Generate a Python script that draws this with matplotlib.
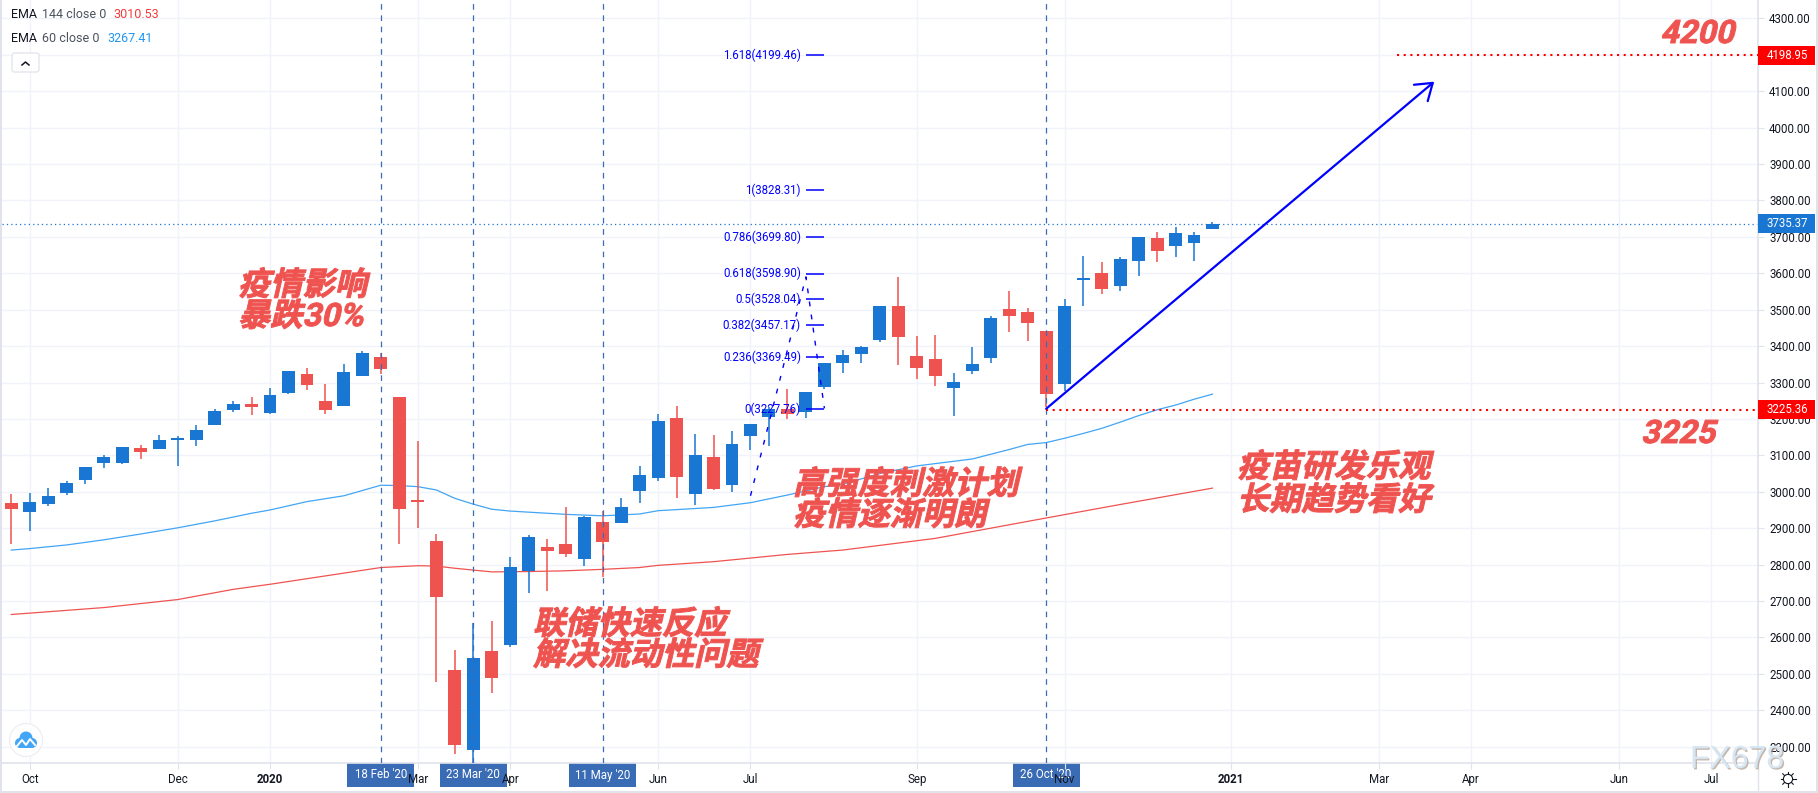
import matplotlib
matplotlib.use('Agg')
import matplotlib.pyplot as plt
import matplotlib.patheffects as pe
from matplotlib.patches import Rectangle, Circle, FancyBboxPatch
from matplotlib.lines import Line2D
from matplotlib.transforms import Affine2D

plt.rcParams['font.family'] = ['Roboto', 'Noto Sans CJK SC', 'DejaVu Sans']

opens = [2969, 2944, 2966, 2996, 3032, 3079, 3079, 3120, 3117, 3142, 3142, 3183, 3224, 3241, 3216, 3271, 3323,
         3249, 3235, 3318, 3370, 3260, 2977, 2865, 2510, 2291, 2563, 2579, 2782, 2848, 2856, 2815, 2917, 2914,
         3002, 3038, 3202, 2994, 3095, 3018, 3153, 3205, 3227, 3219, 3288, 3353, 3378, 3417, 3510, 3373, 3364,
         3285, 3331, 3367, 3502, 3493, 3441, 3296, 3581, 3601, 3565, 3634, 3697, 3675, 3683, 3721]
highs = [2994, 2996, 3010, 3030, 3068, 3101, 3123, 3128, 3156, 3153, 3183, 3227, 3249, 3260, 3285, 3331, 3340,
         3296, 3351, 3386, 3381, 3260, 3139, 2884, 2565, 2640, 2645, 2821, 2881, 2870, 2958, 2933, 2947, 2983,
         3071, 3213, 3235, 3158, 3156, 3167, 3186, 3232, 3282, 3274, 3353, 3389, 3400, 3510, 3590, 3428, 3430,
         3326, 3397, 3483, 3551, 3504, 3441, 3529, 3647, 3631, 3645, 3699, 3713, 3727, 3713, 3741]
lows = [2856, 2892, 2961, 2991, 3021, 3065, 3076, 3090, 3117, 3071, 3126, 3183, 3219, 3211, 3213, 3268, 3279,
        3213, 3235, 3318, 3323, 2856, 2900, 2478, 2280, 2191, 2447, 2574, 2722, 2727, 2821, 2796, 2766, 2914,
        2969, 3029, 2983, 2964, 3005, 2999, 3115, 3126, 3200, 3202, 3282, 3326, 3353, 3411, 3348, 3310, 3290,
        3208, 3323, 3353, 3439, 3414, 3234, 3277, 3510, 3543, 3551, 3592, 3631, 3645, 3634, 3721]
closes = [2953, 2972, 2988, 3024, 3068, 3095, 3123, 3109, 3142, 3148, 3170, 3222, 3241, 3233, 3266, 3331, 3293,
          3224, 3329, 3381, 3337, 2953, 2972, 2711, 2305, 2544, 2488, 2793, 2876, 2837, 2829, 2931, 2862, 2958,
          3046, 3194, 3040, 3101, 3007, 3131, 3186, 3227, 3213, 3274, 3353, 3375, 3397, 3510, 3425, 3340, 3318,
          3301, 3351, 3477, 3483, 3463, 3268, 3510, 3587, 3557, 3639, 3699, 3661, 3710, 3705, 3735]

ema60_x = [0, 1, 3, 5, 7, 9, 11, 13, 14, 16, 18, 20, 21, 22, 23, 24, 25, 26, 27, 30, 32, 34, 35, 38, 40, 42, 44,
           45, 47, 49, 52, 54, 55, 56, 57, 58, 59, 60, 61, 62, 63, 64, 65]
ema60_y = [2840, 2844, 2854, 2868, 2884, 2901, 2920, 2941, 2950, 2973, 2989, 3018, 3017, 3014, 3005, 2982, 2966,
           2952, 2947, 2938, 2934, 2939, 2948, 2957, 2970, 2991, 3014, 3021, 3050, 3071, 3090, 3116, 3130, 3135,
           3147, 3160, 3174, 3191, 3209, 3225, 3238, 3254, 3268]
ema144_x = [0, 5, 9, 12, 14, 20, 22, 23, 24, 25, 26, 28, 30, 32, 34, 35, 38, 40, 42, 45, 50, 53, 56, 60, 65]
ema144_y = [2663, 2682, 2704, 2732, 2746, 2792, 2797, 2796, 2790, 2785, 2780, 2781, 2783, 2787, 2792, 2798, 2808,
            2818, 2828, 2840, 2872, 2900, 2928, 2965, 3010]

price_ticks = list(range(2300, 4400, 100))
time_pos = [1, 9, 14, 22, 27, 35, 40, 49, 57, 66, 74, 79, 87, 92]
time_labels = ['Oct', 'Dec', '2020', 'Mar', 'Apr', 'Jun', 'Jul', 'Sep', 'Nov', '2021', 'Mar', 'Apr', 'Jun', 'Jul']
event_pos = [20, 25, 32, 56]
event_labels = ["18 Feb '20", "23 Mar '20", "11 May '20", "26 Oct '20"]

fib_ratios = ['0', '0.236', '0.382', '0.5', '0.618', '0.786', '1', '1.618']
fib_prices = [3227.76, 3369.49, 3457.17, 3528.04, 3598.90, 3699.80, 3828.31, 4199.46]
fib_path_x = [40, 43, 44]
fib_path_y = [2989, 3590, 3229]

last_price = 3735.37
target_price = 4198.95
support_price = 3225.36
arrow_from = (56, 3228)
arrow_to = (77, 4126)

BLUE = '#1976d2'
RED = '#ef5350'
GRID = '#f0f3fa'
EDGE = '#e0e3eb'
INK = '#131722'
EVENT = '#3a6cb6'
LABEL = 8.3

W, H = 1818, 793
fig = plt.figure(figsize=(W / 100, H / 100), dpi=100)
ax = fig.add_axes([2 / W, (H - 763) / H, 1756 / W, 763 / H])
ax.set_xlim(-0.503, 94.52)
ax.set_ylim(2255.3, 4350.2)
ax.set_axisbelow(False)
# figure pixels, y pointing down
px = Affine2D().scale(1, -1).translate(0, H)


class Slant(pe.AbstractPathEffect):
    # CJK fonts have no italic, so shear the glyphs when they are drawn
    def __init__(self, deg=13, width=0.7):
        super().__init__()
        self.deg = deg
        self.width = width

    def draw_path(self, renderer, gc, tpath, affine, rgbFace=None):
        gc0 = renderer.new_gc()
        gc0.copy_properties(gc)
        gc0.set_foreground(rgbFace)
        gc0.set_linewidth(self.width)
        renderer.draw_path(gc0, tpath, Affine2D().skew_deg(self.deg, 0) + affine, rgbFace)
        gc0.restore()


# grid
for p in price_ticks:
    ax.axhline(p, color=GRID, lw=1.0, zorder=0.5)
for t in time_pos:
    ax.axvline(t, color=GRID, lw=1.0, zorder=0.5)

ax.spines[['left', 'top']].set_visible(False)
ax.spines[['right', 'bottom']].set_color(EDGE)
ax.spines[['right', 'bottom']].set_linewidth(1.2)
ax.yaxis.tick_right()
ax.set_yticks(price_ticks)
ax.set_yticklabels([f'{p:.2f}' for p in price_ticks])
ax.set_xticks(time_pos)
ax.set_xticklabels(time_labels)
ax.tick_params(axis='y', length=4, width=0.8, color=EDGE, labelcolor=INK, labelsize=LABEL, pad=4)
ax.tick_params(axis='x', length=4, width=0.8, color=EDGE, labelcolor=INK, labelsize=LABEL, pad=3)
for lab in ax.get_xticklabels():
    if lab.get_text() in ('2020', '2021'):
        lab.set_fontweight('bold')

# emas
ax.plot(ema144_x, ema144_y, color=RED, lw=0.9, zorder=2)
ax.plot(ema60_x, ema60_y, color='#42a5f5', lw=0.9, zorder=2)

# candles
for i in range(len(opens)):
    c = BLUE if closes[i] >= opens[i] else RED
    ax.vlines(i, lows[i], highs[i], color=c, lw=1.1, zorder=3)
    ax.bar(i, abs(closes[i] - opens[i]), bottom=min(opens[i], closes[i]), width=0.7, color=c, lw=0, zorder=3)

# event lines and date boxes
for t, lab in zip(event_pos, event_labels):
    ax.axvline(t, color=EVENT, lw=0.9, dashes=(4.5, 4.5), zorder=4)
    ax.add_patch(Rectangle((t - 1.81, -24 / 763), 3.62, 24 / 763, transform=ax.get_xaxis_transform(),
                           color=EVENT, lw=0, clip_on=False, zorder=2))
    ax.text(t, -12 / 763, lab, transform=ax.get_xaxis_transform(), color='white', fontsize=LABEL,
            ha='center', va='center', zorder=2.2)

# price lines
ax.axhline(last_price, color=BLUE, lw=0.9, dashes=(1, 2.5), zorder=2.5)
ax.hlines(target_price, 75, 94.52, color='#ff0000', lw=1.5, linestyles=[(0, (1, 2.2))], zorder=4)
ax.hlines(support_price, 56, 94.52, color='#ff0000', lw=1.5, linestyles=[(0, (1, 2.2))], zorder=4)
for p, c in [(last_price, BLUE), (target_price, '#ff0000'), (support_price, '#ff0000')]:
    ax.add_patch(Rectangle((1, p - 26), 57 / 1756, 52, transform=ax.get_yaxis_transform(), color=c, lw=0,
                           clip_on=False, zorder=5))
    ax.text(1 + 29 / 1756, p, f'{p:.2f}', transform=ax.get_yaxis_transform(), color='white',
            fontsize=LABEL, ha='center', va='center', zorder=6)

# fib extension
ax.plot(fib_path_x, fib_path_y, color='#0000ff', lw=1.0, dashes=(3.5, 6), zorder=5)
ax.hlines(fib_prices, fib_path_x[1], fib_path_x[2], color='#0000ff', lw=1.1, zorder=5)
for r, p in zip(fib_ratios, fib_prices):
    ax.text(fib_path_x[1] - 0.27, p, f'{r}({p:.2f})', color='#0000ff', fontsize=LABEL, ha='right', va='center',
            zorder=6)

# trend arrow
ax.annotate('', xy=arrow_to, xytext=arrow_from, zorder=6,
            arrowprops=dict(arrowstyle='->,head_length=0.8,head_width=0.55', color='#0000ff', lw=1.6,
                            shrinkA=0, shrinkB=0, mutation_scale=14))

# big notes
notes = [('疫情影响', 238, 295), ('暴跌30%', 238, 326),
         ('联储快速反应', 533, 634), ('解决流动性问题', 533, 665),
         ('高强度刺激计划', 793, 494), ('疫情逐渐明朗', 793, 525),
         ('疫苗研发乐观', 1237, 477), ('长期趋势看好', 1237, 510),
         ('4200', 1660, 43), ('3225', 1641, 443)]
for s, x, y in notes:
    fig.text(x, y, s, transform=px, color=RED, fontsize=23.2, fontweight='bold', ha='left', va='baseline',
             zorder=8, path_effects=[Slant()])

# legend
fig.text(11, 14, 'EMA', transform=px, color=INK, fontsize=9, va='center')
fig.text(42, 14, '144 close 0', transform=px, color='#4c525e', fontsize=9, va='center')
fig.text(113, 14, '3010.53', transform=px, color='#f23b3b', fontsize=9, va='center')
fig.text(11, 38, 'EMA', transform=px, color=INK, fontsize=9, va='center')
fig.text(42, 38, '60 close 0', transform=px, color='#4c525e', fontsize=9, va='center')
fig.text(107, 38, '3267.41', transform=px, color='#2196f3', fontsize=9, va='center')
fig.add_artist(FancyBboxPatch((12, 53), 27, 19, boxstyle='round,pad=0,rounding_size=2.5', transform=px,
                              fc='white', ec=EDGE, lw=0.9))
fig.add_artist(Line2D([22, 25.5, 29], [65, 62, 65], transform=px, color=INK, lw=1.1))

# logo circle, bottom left
fig.add_artist(Circle((26, 740), 16.5, transform=px, fc='white', ec='#eceef3', lw=0.9))
for cx, cy, r in [(20, 743, 5), (26, 738, 6.5), (32, 743, 5)]:
    fig.add_artist(Circle((cx, cy), r, transform=px, fc='#42a5f5', ec='none'))
fig.add_artist(Rectangle((20, 742), 12, 6, transform=px, fc='#42a5f5', ec='none'))
fig.add_artist(Line2D([17, 22, 26, 30, 35], [746, 740, 745, 739, 745], transform=px, color='white', lw=1.4))

# settings icon, bottom right
fig.add_artist(Circle((1788, 779), 4.6, transform=px, fc='white', ec=INK, lw=0.8))
rays_x = [0, 0.7, 1, 0.7, 0, -0.7, -1, -0.7]
rays_y = [-1, -0.7, 0, 0.7, 1, 0.7, 0, -0.7]
for dx, dy in zip(rays_x, rays_y):
    fig.add_artist(Line2D([1788 + 5 * dx, 1788 + 7.5 * dx], [779 + 5 * dy, 779 + 7.5 * dy], transform=px,
                          color=INK, lw=0.8))

# chart frame
fig.add_artist(Rectangle((0, 0), 2, H, transform=px, fc=EDGE, ec='none'))
fig.add_artist(Rectangle((0, 791), W, 2, transform=px, fc=EDGE, ec='none'))
fig.add_artist(Rectangle((1816, 0), 2, H, transform=px, fc=EDGE, ec='none'))
fig.add_artist(Line2D([1758, 1758], [763, 791], transform=px, color=EDGE, lw=1.0))

# watermark
fig.text(1690, 768, 'FX678', transform=px, color='#d6e6f3', fontsize=23, family='Liberation Sans', ha='left',
         va='baseline', zorder=9,
         path_effects=[pe.withSimplePatchShadow(offset=(1, -1), shadow_rgbFace='#b09a8c', alpha=0.7)])

fig.savefig('out.png', dpi=100)
